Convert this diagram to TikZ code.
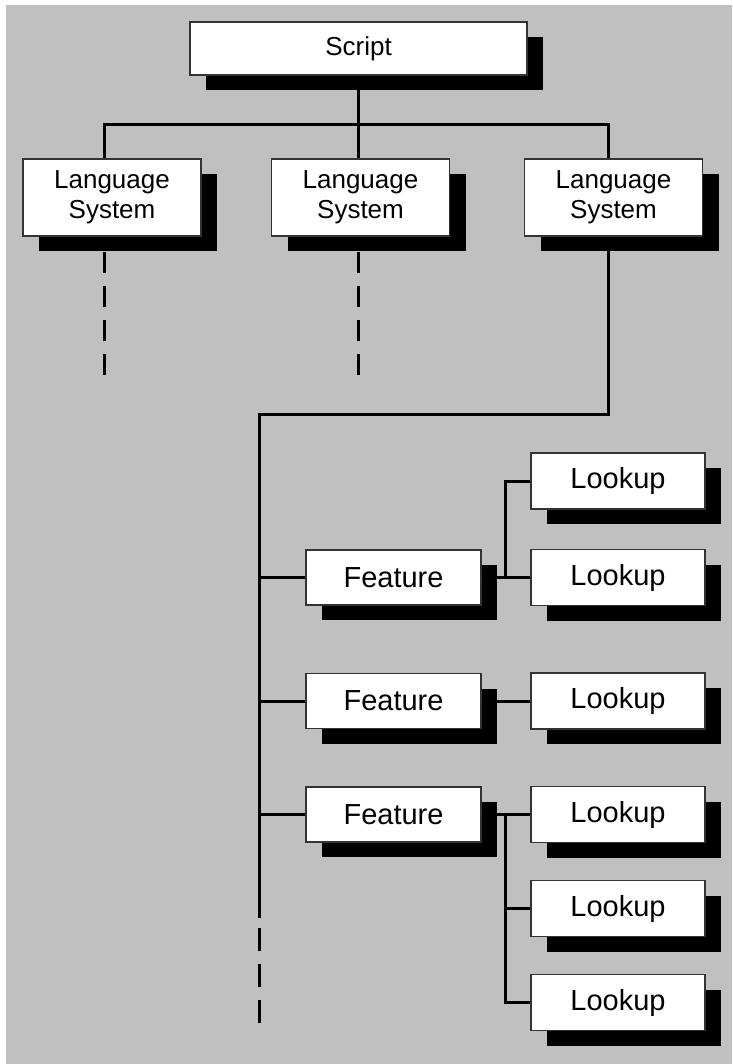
\documentclass[tikz,border=0pt]{standalone}
\usepackage{fontspec}
\setmainfont{Liberation Sans}
\usepackage{xcolor}
\usetikzlibrary{shadows,calc}
\definecolor{panelgray}{RGB}{192,192,192}

\begin{document}
\begin{tikzpicture}[x=1pt, y=-1pt, every node/.style={font=\fontsize{26}{30}\selectfont}]
\tikzstyle{box} = [rectangle, draw=black!80, line width=1.2pt, fill=white, inner sep=0pt, text centered, drop shadow={shadow xshift=16pt, shadow yshift=-15pt, fill=black, opacity=1}]
\tikzstyle{head} = [box, minimum width=337pt, minimum height=53pt]
\tikzstyle{langsys} = [box, align=center, minimum width=178pt, minimum height=77pt]
\tikzstyle{feat} = [box, minimum width=175pt, minimum height=55pt, font=\fontsize{29}{34}\selectfont]
\tikzstyle{look} = [box, minimum width=174pt, minimum height=56pt, font=\fontsize{29}{34}\selectfont]
\tikzstyle{link} = [line width=3pt]
\tikzstyle{trail} = [link, dash pattern=on 21pt off 13pt]

% panel
\fill[white] (0,0) rectangle (732,1064);
\fill[panelgray] (6,5) rectangle (732,1064);

\node (script) [head] at (358.5,48.5) {Script};
\node (lang1) [langsys] at (112,197.5) {Language\\System};
\node (lang2) [langsys] at (360.5,197.5) {Language\\System};
\node (lang3) [langsys] at (613.5,197.5) {Language\\System};

\node (feat1) [feat] at (393.5,577.5) {Feature};
\node (feat2) [feat] at (393.5,701) {Feature};
\node (feat3) [feat] at (393.5,814.5) {Feature};

\node (look1) [look] at (618,481) {Lookup};
\node (look2) [look] at (618,577.5) {Lookup};
\node (look3) [look] at (618,701) {Lookup};
\node (look4) [look] at (618,814.5) {Lookup};
\node (look5) [look] at (618,908.5) {Lookup};
\node (look6) [look] at (618,1002.5) {Lookup};

\coordinate (busL) at (104,125);
\coordinate (busR) at (608,125);
\coordinate (dash1) at (104,375);
\coordinate (dash2) at (358.5,375);
\coordinate (trunkTop) at (259,414);
\coordinate (trunkEnd) at (259,918);
\coordinate (trunkGap) at (259,928);
\coordinate (trunkStop) at (259,1023);
\coordinate (fork) at (505,0);

% script to language systems
\draw[link] (script.south) -- (script.south |- busL);
\draw[link] (busL |- lang1.north) -- (busL) -- (busR) -- (busR |- lang3.north);
\draw[link] (script.south |- busL) -- (script.south |- lang2.north);
\draw[trail] ($(busL |- lang1.south)+(0,15)$) -- (dash1);
\draw[trail] ($(script.south |- lang2.south)+(0,15)$) -- (dash2);

% language system to features
\draw[link] (busR |- lang3.south) -- (busR |- trunkTop) -- (trunkTop) -- (trunkEnd);
\draw[trail, dash pattern=on 23pt off 13pt] (trunkGap) -- (trunkStop);
\draw[link] (trunkTop |- feat1.west) -- (feat1.west);
\draw[link] (trunkTop |- feat2.west) -- (feat2.west);
\draw[link] (trunkTop |- feat3.west) -- (feat3.west);

% features to lookups
\draw[link] (feat1.east) -- (look2.west);
\draw[link] (look1.west) -- (fork |- look1.west) -- (fork |- look2.west);
\draw[link] (feat2.east) -- (look3.west);
\draw[link] (feat3.east) -- (look4.west);
\draw[link] (fork |- look4.west) -- (fork |- look6.west) -- (look6.west);
\draw[link] (fork |- look5.west) -- (look5.west);
\end{tikzpicture}
\end{document}
